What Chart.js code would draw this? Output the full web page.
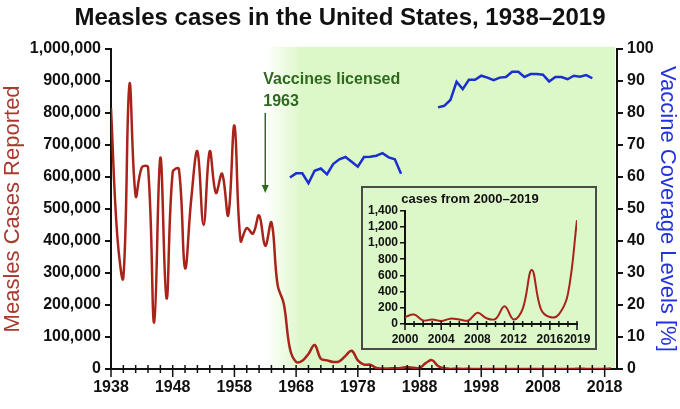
<!DOCTYPE html>
<html>
<head>
<meta charset="utf-8">
<script src="https://cdn.jsdelivr.net/npm/chart.js@4.4.1/dist/chart.umd.min.js"></script>
<style>
  html, body { margin: 0; padding: 0; background: #ffffff; }
  #wrap { position: relative; width: 680px; height: 409px; }
  #inset {
    position: absolute; left: 361px; top: 186px; width: 236px; height: 164px;
    box-sizing: border-box; border: 2px solid #4a4a4a; background: #dcf7c8;
  }
</style>
</head>
<body>
<div id="wrap">
  <canvas id="main"></canvas>
  <div id="inset"><canvas id="small"></canvas></div>
</div>
<script>
// Datos: casos de sarampión notificados por año
const caseYears = [];
for (let y = 1938; y <= 2019; y++) caseYears.push(y);
const caseValues = [
  815000, 420000, 285000, 890000, 540000, 630000, 630000, 145000, 660000, 220000,   // 1938-1947
  615000, 625000, 315000, 530000, 680000, 450000, 680000, 550000, 610000, 480000,   // 1948-1957
  760000, 400000, 440000, 423000, 480000, 385000, 458000, 262000, 204000, 63000,    // 1958-1967
  22000, 26000, 47000, 75000, 32000, 27000, 22000, 24000, 41000, 57000,             // 1968-1977
  27000, 13600, 13500, 3100, 1700, 1500, 2600, 2800, 6300, 3700,                    // 1978-1987
  3400, 18200, 27800, 9600, 2200, 312, 963, 309, 508, 138,                          // 1988-1997
  100, 100, 86, 116, 44, 56, 37, 66, 55, 43,                                        // 1998-2007
  140, 71, 63, 220, 55, 187, 667, 188, 86, 120,                                     // 2008-2017
  372, 1282                                                                         // 2018-2019
];

// Cobertura de vacunación [%] (sin datos 1986-1990)
const coverageYears = [];
for (let y = 1967; y <= 2016; y++) coverageYears.push(y);
const coverageValues = [
  59.8, 61.1, 61.1, 58.0, 61.9, 62.6, 60.8, 64.0, 65.5, 66.2,   // 1967-1976
  64.7, 63.2, 66.2, 66.3, 66.6, 67.4, 66.1, 65.5, 61.0,         // 1977-1985
  null, null, null, null, null,                                 // 1986-1990
  81.7, 82.2, 84.0, 89.7, 87.4, 90.3, 90.3, 91.6, 91.0, 90.2,   // 1991-2000
  91.0, 91.2, 92.8, 92.8, 91.2, 92.1, 92.1, 91.9, 89.8, 91.2,   // 2001-2010
  91.2, 90.5, 91.6, 91.3, 91.8, 90.8                            // 2011-2016
];

// Ejes
const xTickYears = [];
for (let y = 1938; y <= 2018; y += 2) xTickYears.push(y);
const xLabelYears = [1938, 1948, 1958, 1968, 1978, 1988, 1998, 2008, 2018];
const insetTickYears = [];
for (let y = 2000; y <= 2019; y++) insetTickYears.push(y);
const insetLabelYears = [2000, 2004, 2008, 2012, 2016, 2019];

const vaccineYear = 1963;
const annotationLines = ['Vaccines licensed', '1963'];

const colors = {
  cases: '#a8241a',
  casesTitle: '#a83a30',
  coverage: '#1a2fd0',
  coverageTitle: '#2233dd',
  green: '#2e6a1e',
  vaccineBg: '220, 247, 200',
  ink: '#111111'
};

const FONT = '"Liberation Sans", Arial, sans-serif';
const toXY = (xs, ys) => xs.map((x, i) => ({ x: x, y: ys[i] }));

// Fondo verde a partir de la vacuna
const vaccineBackground = {
  id: 'vaccineBackground',
  beforeDraw(chart) {
    const { ctx, chartArea, scales } = chart;
    const x0 = scales.x.getPixelForValue(vaccineYear);
    const x1 = scales.x.getPixelForValue(vaccineYear + 6);
    const right = chartArea.right - 2;
    const grad = ctx.createLinearGradient(x0, 0, x1, 0);
    grad.addColorStop(0, 'rgba(' + colors.vaccineBg + ', 0)');
    grad.addColorStop(1, 'rgba(' + colors.vaccineBg + ', 1)');
    ctx.save();
    ctx.fillStyle = grad;
    ctx.fillRect(x0, chartArea.top - 2, right - x0, chartArea.bottom - chartArea.top + 2);
    ctx.restore();
  }
};

// Marcas del eje X que cruzan la línea del eje
function crossTicks(scaleId, labels, up, down, downMajor) {
  return {
    id: 'crossTicks_' + scaleId,
    afterDraw(chart) {
      const { ctx } = chart;
      const scale = chart.scales[scaleId];
      const yAxis = scale.top;
      ctx.save();
      ctx.strokeStyle = colors.ink;
      ctx.lineWidth = 1.5;
      scale.ticks.forEach(t => {
        const px = scale.getPixelForValue(t.value);
        const d = labels.includes(t.value) ? downMajor : down;
        ctx.beginPath();
        ctx.moveTo(px, yAxis - up);
        ctx.lineTo(px, yAxis + d);
        ctx.stroke();
      });
      ctx.restore();
    }
  };
}

// Anotación "Vaccines licensed 1963"
const vaccineNote = {
  id: 'vaccineNote',
  afterDatasetsDraw(chart) {
    const { ctx, scales } = chart;
    const x = scales.x.getPixelForValue(vaccineYear);
    const y = scales.y;
    ctx.save();
    ctx.fillStyle = colors.green;
    ctx.font = 'bold 16px ' + FONT;
    ctx.textAlign = 'left';
    ctx.textBaseline = 'alphabetic';
    ctx.fillText(annotationLines[0], x - 2, y.getPixelForValue(890000));
    ctx.fillText(annotationLines[1], x - 2, y.getPixelForValue(820000));
    const yTop = y.getPixelForValue(800000);
    const yTip = y.getPixelForValue(550000);
    ctx.strokeStyle = colors.green;
    ctx.lineWidth = 1.5;
    ctx.beginPath();
    ctx.moveTo(x, yTop);
    ctx.lineTo(x, yTip - 6);
    ctx.stroke();
    ctx.beginPath();
    ctx.moveTo(x - 3.5, yTip - 8);
    ctx.lineTo(x + 3.5, yTip - 8);
    ctx.lineTo(x, yTip);
    ctx.closePath();
    ctx.fill();
    ctx.restore();
  }
};

Chart.defaults.font.family = FONT;
Chart.defaults.color = colors.ink;

new Chart(document.getElementById('main'), {
  type: 'line',
  data: {
    datasets: [
      {
        label: 'Measles Cases Reported',
        data: toXY(caseYears, caseValues),
        yAxisID: 'y',
        borderColor: colors.cases,
        borderWidth: 2.5,
        pointRadius: 0,
        tension: 0.4,
        fill: false
      },
      {
        label: 'Vaccine Coverage Levels [%]',
        data: toXY(coverageYears, coverageValues),
        yAxisID: 'y2',
        borderColor: colors.coverage,
        borderWidth: 2.5,
        pointRadius: 0,
        tension: 0,
        spanGaps: false,
        fill: false
      }
    ]
  },
  options: {
    responsive: true,
    maintainAspectRatio: false,
    animation: false,
    layout: { padding: { top: 0, left: 0, right: 0, bottom: 0 } },
    plugins: {
      legend: { display: false },
      tooltip: { enabled: false },
      title: {
        display: true,
        text: 'Measles cases in the United States, 1938\u20132019',
        font: { size: 24, weight: 'bold' },
        color: colors.ink,
        padding: { top: 4, bottom: 16 }
      }
    },
    scales: {
      x: {
        type: 'linear',
        min: 1938,
        max: 2020,
        afterBuildTicks: s => { s.ticks = xTickYears.map(v => ({ value: v })); },
        afterFit: s => { s.height = 40; },
        ticks: {
          autoSkip: false,
          maxRotation: 0,
          padding: 1,
          font: { size: 16, weight: 'bold' },
          callback: v => xLabelYears.includes(v) ? String(v) : ''
        },
        grid: { display: false },
        border: { display: true, color: colors.ink, width: 2 }
      },
      y: {
        position: 'left',
        min: 0,
        max: 1000000,
        afterFit: s => { s.width = 111; },
        ticks: {
          stepSize: 100000,
          autoSkip: false,
          padding: 4,
          font: { size: 16, weight: 'bold' },
          callback: v => v.toLocaleString('en-US')
        },
        grid: { drawOnChartArea: false, tickLength: 6, color: colors.ink, lineWidth: 2 },
        border: { display: true, color: colors.ink, width: 2 },
        title: {
          display: true,
          text: 'Measles Cases Reported',
          color: colors.casesTitle,
          font: { size: 22 },
          padding: { top: 0, bottom: 0 }
        }
      },
      y2: {
        position: 'right',
        min: 0,
        max: 100,
        afterFit: s => { s.width = 63; },
        ticks: {
          stepSize: 10,
          autoSkip: false,
          padding: 4,
          font: { size: 16, weight: 'bold' }
        },
        grid: { drawOnChartArea: false, tickLength: 6, color: colors.ink, lineWidth: 2 },
        border: { display: true, color: colors.ink, width: 2 },
        title: {
          display: true,
          text: 'Vaccine Coverage Levels [%]',
          color: colors.coverageTitle,
          font: { size: 22 },
          padding: { top: 0, bottom: 0 }
        }
      }
    }
  },
  plugins: [vaccineBackground, crossTicks('x', xLabelYears, 4, 4, 8), vaccineNote]
});

// Gráfico pequeño: casos de 2000 a 2019
const insetYears = caseYears.filter(y => y >= 2000);
const insetValues = caseValues.slice(caseYears.indexOf(2000));

new Chart(document.getElementById('small'), {
  type: 'line',
  data: {
    datasets: [{
      label: 'cases from 2000\u20132019',
      data: toXY(insetYears, insetValues),
      borderColor: colors.cases,
      borderWidth: 2,
      pointRadius: 0,
      tension: 0.4,
      fill: false
    }]
  },
  options: {
    responsive: true,
    maintainAspectRatio: false,
    animation: false,
    layout: { padding: { right: 18, left: 0, top: 0, bottom: 0 } },
    plugins: {
      legend: { display: false },
      tooltip: { enabled: false },
      title: {
        display: true,
        text: 'cases from 2000\u20132019',
        font: { size: 13, weight: 'bold' },
        color: colors.ink,
        padding: { top: 4, bottom: 3 }
      }
    },
    scales: {
      x: {
        type: 'linear',
        min: 2000,
        max: 2019,
        afterBuildTicks: s => { s.ticks = insetTickYears.map(v => ({ value: v })); },
        afterFit: s => { s.height = 24; },
        ticks: {
          autoSkip: false,
          maxRotation: 0,
          padding: 0,
          font: { size: 12, weight: 'bold' },
          callback: v => insetLabelYears.includes(v) ? String(v) : ''
        },
        grid: { display: false },
        border: { display: true, color: colors.ink, width: 2 }
      },
      y: {
        min: 0,
        max: 1400,
        afterFit: s => { s.width = 42; },
        ticks: {
          stepSize: 200,
          autoSkip: false,
          padding: 2,
          font: { size: 12, weight: 'bold' },
          callback: v => v.toLocaleString('en-US')
        },
        grid: { drawOnChartArea: false, tickLength: 5, color: colors.ink, lineWidth: 1.5 },
        border: { display: true, color: colors.ink, width: 2 }
      }
    }
  },
  plugins: [crossTicks('x', insetLabelYears, 3, 3, 6)]
});
</script>
</body>
</html>
